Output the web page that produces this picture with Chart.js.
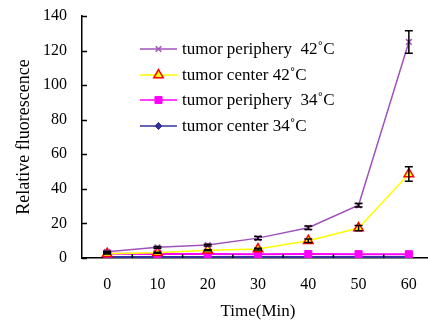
<!DOCTYPE html>
<html>
<head>
<meta charset="utf-8">
<script src="https://cdn.jsdelivr.net/npm/chart.js@4"></script>
<style>
  html, body { margin: 0; padding: 0; background: #fff; overflow: hidden; }
  #wrap { width: 441px; height: 324px; }
</style>
</head>
<body>
<div id="wrap"><canvas id="myChart" width="441" height="324"></canvas></div>
<script>
'use strict';

//data
var timeLabels = ['0', '10', '20', '30', '40', '50', '60'];
var periphery42 = [3.6, 6.2, 7.5, 11.5, 17.5, 30.5, 125];
var periphery42Err = [0.3, 0.5, 0.5, 1, 1, 1, 6.5];
var center42 = [2.5, 3, 4.5, 5.2, 10, 17.3, 48.6];
var center42Err = [0.2, 0.3, 0.3, 0.5, 1, 1.5, 4.2];
var periphery34 = [2.5, 2.3, 2.3, 2.2, 2.3, 2.2, 2.2];
var center34 = [0.6, 0.6, 0.6, 0.6, 0.6, 0.6, 0.6];
var yTicks = [0, 20, 40, 60, 80, 100, 120, 140];
var legendNames = ['tumor periphery  42\u02DAC', 'tumor center 42\u02DAC', 'tumor periphery  34\u02DAC', 'tumor center 34\u02DAC'];

var serif = '"Liberation Serif", "DejaVu Serif", serif';

//error bars, drawn through the scales
var errorBars = {
  id: 'errorBars',
  afterDatasetsDraw: function (chart) {
    var ctx = chart.ctx;
    var x = chart.scales.x;
    var y = chart.scales.y;
    var sets = [[periphery42, periphery42Err], [center42, center42Err]];
    ctx.save();
    ctx.strokeStyle = '#000';
    ctx.lineWidth = 1.5;
    sets.forEach(function (s) {
      for (var i = 0; i < s[0].length; i++) {
        var px = x.getPixelForValue(i);
        var top = y.getPixelForValue(s[0][i] + s[1][i]);
        var bot = y.getPixelForValue(s[0][i] - s[1][i]);
        ctx.beginPath();
        ctx.moveTo(px, top); ctx.lineTo(px, bot);
        ctx.moveTo(px - 4, top); ctx.lineTo(px + 4, top);
        ctx.moveTo(px - 4, bot); ctx.lineTo(px + 4, bot);
        ctx.stroke();
      }
    });
    ctx.restore();
  }
};

//inside tick marks like the original
var insideTicks = {
  id: 'insideTicks',
  afterDraw: function (chart) {
    var ctx = chart.ctx;
    var a = chart.chartArea;
    var x = chart.scales.x;
    var y = chart.scales.y;
    ctx.save();
    ctx.strokeStyle = '#000';
    ctx.lineWidth = 1.5;
    ctx.beginPath();
    yTicks.forEach(function (v) {
      var py = Math.round(y.getPixelForValue(v)) + 0.5;
      ctx.moveTo(a.left, py); ctx.lineTo(a.left + 5, py);
    });
    for (var i = 0; i < timeLabels.length; i++) {
      var px = (x.getPixelForValue(i) + x.getPixelForValue(i + 1)) / 2;
      ctx.moveTo(px, a.bottom); ctx.lineTo(px, a.bottom - 4);
    }
    ctx.stroke();
    ctx.restore();
  }
};

//legend placed inside the plot
var innerLegend = {
  id: 'innerLegend',
  afterDraw: function (chart) {
    var ctx = chart.ctx;
    var rows = [49, 75, 100, 126];
    ctx.save();
    chart.data.datasets.forEach(function (ds, i) {
      var yy = rows[i];
      ctx.strokeStyle = ds.borderColor;
      ctx.lineWidth = 1.5;
      ctx.beginPath();
      ctx.moveTo(140, yy); ctx.lineTo(177, yy);
      ctx.stroke();
      ctx.strokeStyle = ds.pointBorderColor;
      ctx.fillStyle = ds.pointBackgroundColor;
      ctx.lineWidth = ds.pointBorderWidth;
      Chart.helpers.drawPoint(ctx, {
        pointStyle: ds.pointStyle,
        radius: ds.pointRadius,
        borderWidth: ds.pointBorderWidth
      }, 158.5, yy);
      ctx.fillStyle = '#000';
      ctx.font = '17px ' + serif;
      ctx.textBaseline = 'middle';
      ctx.fillText(legendNames[i], 182, yy + 1);
    });
    ctx.restore();
  }
};

var ctx = document.getElementById('myChart').getContext('2d');
//eslint-disable-next-line no-unused-vars
var chart = new Chart(ctx, {
  type: 'line',
  data: {
    labels: timeLabels,
    datasets: [{
      label: legendNames[0],
      data: periphery42,
      borderColor: '#a052bb',
      pointBorderColor: '#a052bb',
      pointBackgroundColor: '#a052bb',
      pointStyle: 'crossRot',
      pointRadius: 4,
      pointBorderWidth: 1.5,
      borderWidth: 1.5
    }, {
      label: legendNames[1],
      data: center42,
      borderColor: '#ffff00',
      pointBorderColor: '#ff0000',
      pointBackgroundColor: '#ffff00',
      pointStyle: 'triangle',
      pointRadius: 5.5,
      pointBorderWidth: 1.5,
      borderWidth: 1.5
    }, {
      label: legendNames[2],
      data: periphery34,
      borderColor: '#ff00ff',
      pointBorderColor: '#ff00ff',
      pointBackgroundColor: '#ff00ff',
      pointStyle: 'rect',
      pointRadius: 5,
      pointBorderWidth: 1,
      borderWidth: 2
    }, {
      label: legendNames[3],
      data: center34,
      borderColor: '#333399',
      pointBorderColor: '#333399',
      pointBackgroundColor: '#333399',
      pointStyle: 'rectRot',
      pointRadius: 3.5,
      pointBorderWidth: 1,
      borderWidth: 2
    }]
  },
  options: {
    responsive: false,
    animation: false,
    layout: { padding: { left: 13, top: 16, right: 0, bottom: 2 } },
    plugins: {
      legend: { display: false },
      tooltip: { enabled: false }
    },
    scales: {
      x: {
        type: 'category',
        offset: true,
        grid: { display: false, drawTicks: false },
        border: { display: true, color: '#000', width: 1.5 },
        ticks: { color: '#000', padding: 17, font: { family: serif, size: 16 }, maxRotation: 0 },
        title: { display: true, text: 'Time(Min)', color: '#000', padding: { top: 7, bottom: 0 }, font: { family: serif, size: 17 } },
        afterFit: function (scale) {
          scale.height = 64;
          scale.paddingLeft = 0;
          scale.paddingRight = 0;
        }
      },
      y: {
        min: 0,
        max: 140,
        afterBuildTicks: function (scale) {
          scale.ticks = yTicks.map(function (v) { return { value: v }; });
        },
        grid: { display: false, drawTicks: false },
        border: { display: true, color: '#000', width: 1.5 },
        ticks: { color: '#000', padding: 15, font: { family: serif, size: 16 } },
        title: { display: true, text: 'Relative fluorescence', color: '#000', padding: 0, font: { family: serif, size: 18 } },
        afterFit: function (scale) {
          scale.width = 69;
          scale.paddingTop = 0;
          scale.paddingBottom = 0;
        }
      }
    }
  },
  plugins: [errorBars, insideTicks, innerLegend]
});
</script>
</body>
</html>
